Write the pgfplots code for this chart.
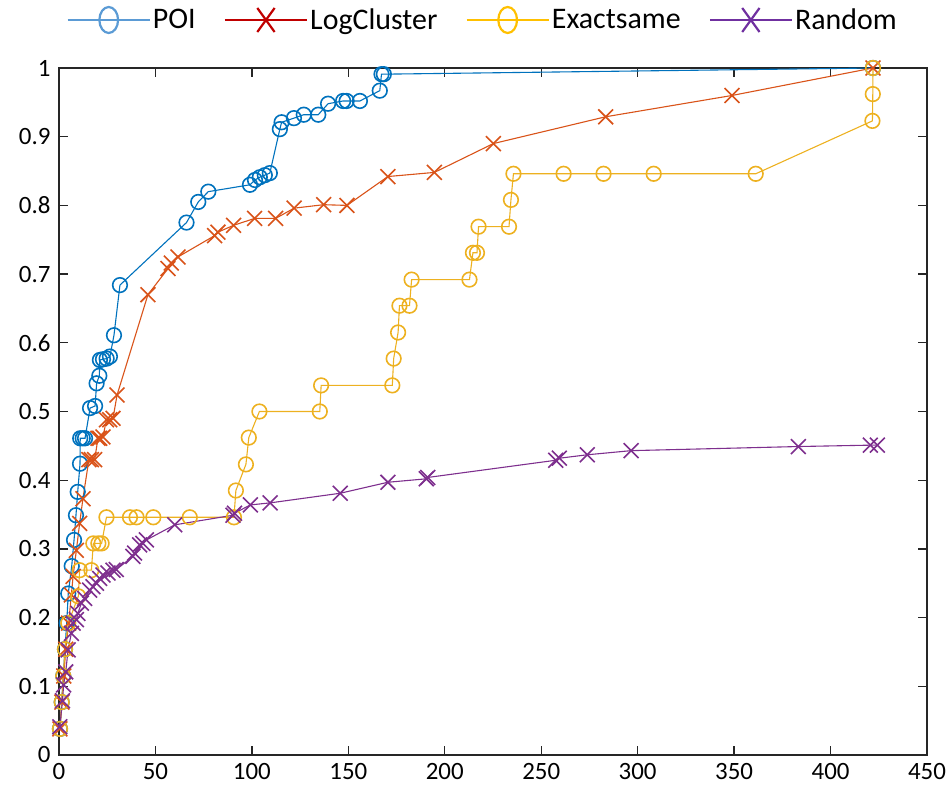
\documentclass[border=0pt]{standalone}
\usepackage{pgfplots}
\pgfplotsset{compat=1.18}
\usepackage{fontspec}
\setmainfont{Carlito}
\definecolor{mblue}{rgb}{0,0.447,0.741}
\definecolor{morange}{rgb}{0.85,0.325,0.098}
\definecolor{myellow}{rgb}{0.929,0.694,0.125}
\definecolor{mpurple}{rgb}{0.494,0.184,0.556}
\definecolor{lblue}{HTML}{5B9BD5}
\definecolor{lred}{HTML}{C00000}
\definecolor{lgold}{HTML}{FFC000}
\definecolor{lpurple}{HTML}{7030A0}
\definecolor{axcol}{HTML}{262626}
\begin{document}
\begin{tikzpicture}
\begin{axis}[
  scale only axis, width=868bp, height=687bp,
  xmin=0, xmax=450, ymin=0, ymax=1,
  xtick={0,50,100,150,200,250,300,350,400,450},
  ytick={0,0.1,0.2,0.3,0.4,0.5,0.6,0.7,0.8,0.9,1},
  yticklabels={0,0.1,0.2,0.3,0.4,0.5,0.6,0.7,0.8,0.9,1},
  tick align=inside, major tick length=9bp,
  axis line style={draw=axcol, line width=1.3bp},
  every tick/.style={axcol, line width=1.3bp},
  /pgf/number format/assume math mode=true,
  ticklabel style={font=\fontsize{25}{25}\selectfont, text=black},
  xticklabel style={yshift=-5bp},
  yticklabel style={xshift=-5bp},
  legend columns=4,
  legend style={at={(0.488,1)}, anchor=center, yshift=48bp, draw=none, fill=none,
    font=\fontsize{30}{30}\selectfont,
    /tikz/every even column/.append style={column sep=26bp}},
  legend image code/.code={\draw[mark repeat=2,mark phase=2,#1] plot coordinates {(0bp,0bp)(41bp,0bp)(82bp,0bp)};},
]
\coordinate (SW) at (rel axis cs:0,0);
\coordinate (NE) at (rel axis cs:1,1);
\addlegendimage{lblue, line width=2.5bp, mark=o, mark size=13bp, mark options={line width=2.2bp, xscale=0.72}}
\addlegendimage{lred, line width=2.5bp, mark=x, mark size=17bp, mark options={line width=2.2bp, xscale=0.72}}
\addlegendimage{lgold, line width=2.5bp, mark=o, mark size=13bp, mark options={line width=2.2bp, xscale=0.72}}
\addlegendimage{lpurple, line width=2.5bp, mark=x, mark size=17bp, mark options={line width=2.2bp, xscale=0.72}}

% POI
\addplot[forget plot, color=mblue, line width=1.1bp, mark=o, mark size=7.3bp, mark options={line width=1.6bp}] coordinates {
(0.5,0.038)(1.4,0.077)(2.2,0.115)(3.1,0.154)(4,0.192)
(4.8,0.235)(6.6,0.275)(7.8,0.313)(8.8,0.349)(9.7,0.383)(10.9,0.424)
(11.0,0.461)(12.3,0.461)(13.5,0.461)(16.1,0.505)(18.7,0.508)
(19.5,0.541)(20.9,0.552)(21.2,0.575)(22.8,0.576)(24.7,0.577)(26.4,0.58)
(28.5,0.611)(31.6,0.684)(66.1,0.775)(72.2,0.805)(77.4,0.820)
(99.0,0.830)(101.6,0.837)(104.1,0.841)(106.7,0.844)(109.3,0.847)
(114.5,0.911)(115.4,0.921)(121.8,0.927)(126.9,0.932)(134.4,0.932)
(139.5,0.948)(147.3,0.952)(149.1,0.952)(156.0,0.952)(166.3,0.967)
(167.2,0.991)(168.4,0.991)(422,1.0)
};
% LogCluster
\addplot[forget plot, color=morange, line width=1.1bp, mark=x, mark size=10.5bp, mark options={line width=1.6bp}] coordinates {
(0.5,0.038)(1.5,0.077)(2.5,0.115)(3.5,0.154)(5,0.192)
(6.4,0.233)(7.3,0.26)(9.0,0.298)(10.7,0.337)(12.4,0.373)
(15.5,0.43)(16.8,0.43)(18.5,0.43)(20.2,0.461)(21.1,0.461)(22.8,0.463)
(24.6,0.488)(26.3,0.488)(28.0,0.49)(30.1,0.524)(46.1,0.670)
(56.5,0.708)(58.2,0.716)(61.7,0.725)(80.7,0.756)(82.4,0.761)(90.5,0.771)
(101.4,0.781)(112.3,0.781)(121.9,0.796)(137.2,0.801)(149.3,0.80)
(170.5,0.842)(194.6,0.848)(225.2,0.890)(283.4,0.929)(348.9,0.960)(422,1.0)
};
% Exactsame
\addplot[forget plot, color=myellow, line width=1.1bp, mark=o, mark size=7.3bp, mark options={line width=1.6bp}] coordinates {
(0.5,0.038)(1.4,0.077)(2.2,0.115)(3.1,0.154)(4.8,0.192)(10,0.231)
(10.7,0.269)(16.8,0.269)(17.8,0.308)(20.4,0.308)(22.1,0.308)
(24.6,0.346)(36.8,0.346)(40.2,0.346)(48.9,0.346)(67.8,0.346)(90.7,0.346)
(91.7,0.385)(96.9,0.423)(98.4,0.462)(103.9,0.5)(135.2,0.5)(135.9,0.538)
(172.8,0.538)(173.5,0.577)(175.8,0.615)(176.5,0.654)(181.7,0.654)
(182.8,0.692)(212.8,0.692)(214.6,0.731)(216.7,0.731)(217.5,0.769)
(233.3,0.769)(234.3,0.808)(235.6,0.846)(261.6,0.846)(282.3,0.846)
(308.3,0.846)(361.2,0.846)(421.7,0.923)(421.9,0.962)(422,1.0)
};
% Random
\addplot[forget plot, color=mpurple, line width=1.1bp, mark=x, mark size=10.5bp, mark options={line width=1.6bp}] coordinates {
(0.4,0.041)(1.8,0.079)(2.4,0.102)(3.5,0.121)(4.7,0.153)(6.4,0.177)
(7.3,0.192)(9.0,0.197)(9.8,0.206)(11.6,0.221)(13.3,0.228)(15.9,0.24)
(17.6,0.245)(19.4,0.25)(21.1,0.257)(22.8,0.262)(25.4,0.265)(28.0,0.269)
(29.7,0.27)(38.3,0.289)(39.2,0.294)(41.8,0.306)(43.5,0.308)(45.3,0.313)
(60.0,0.335)(90.2,0.349)(91.0,0.352)(99.2,0.364)(109.5,0.367)
(145.8,0.381)(170.5,0.397)(190.4,0.402)(191.2,0.404)(257.5,0.429)
(259.4,0.432)(273.9,0.437)(296.6,0.443)(383.3,0.449)(420.6,0.451)(424.3,0.451)
};
\legend{POI,LogCluster,Exactsame,Random}
\end{axis}
\path ([shift={(-59bp,-41bp)}]SW) rectangle ([shift={(24bp,68bp)}]NE);
\end{tikzpicture}
\end{document}
